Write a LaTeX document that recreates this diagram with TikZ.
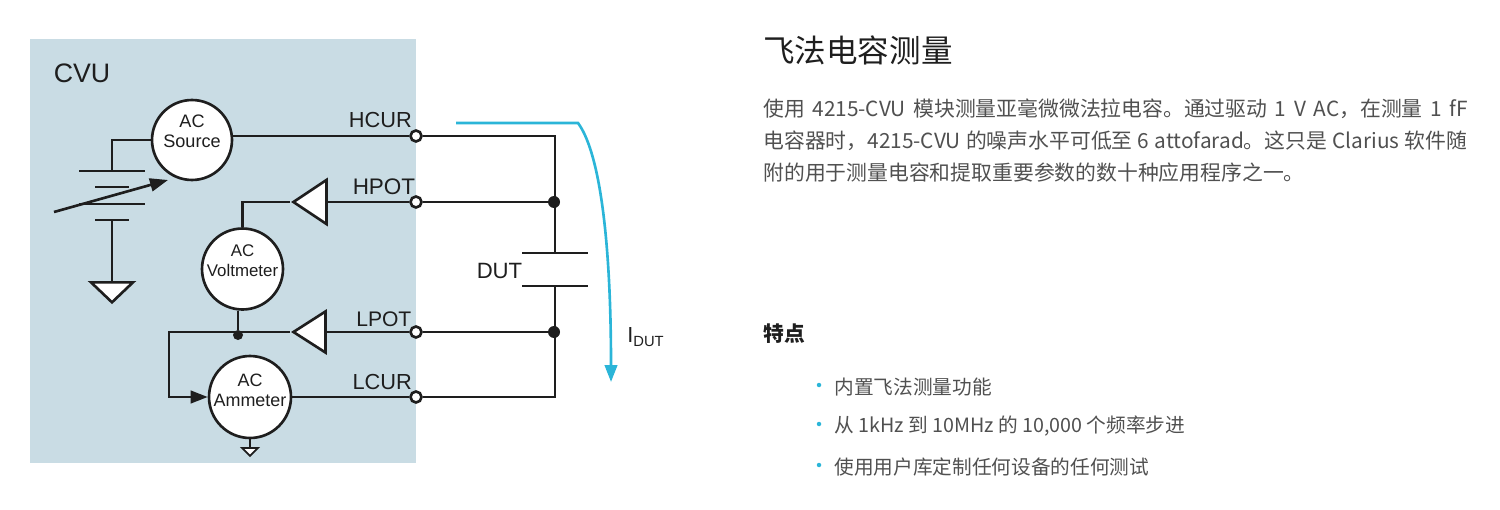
\documentclass[tikz,border=0pt]{standalone}
\usepackage{fontspec}
\setmainfont{Liberation Sans}
\newfontfamily\cjk{Noto Sans CJK SC}
\usetikzlibrary{arrows, arrows.meta, positioning, shapes.geometric}
\definecolor{panelblue}{HTML}{C9DCE4}
\definecolor{courant}{HTML}{2BB5D8}
\definecolor{encre}{HTML}{1E1E1E}
\definecolor{corps}{HTML}{505050}
\tikzset{
    %Define standard wire
    fil/.style={
           draw=encre,
           line width=1.5pt},
    %Define style for circles
    appareil/.style={
           circle,
           fil,
           fill=white,
           inner sep=0pt},
    % text inside the circles
    texteapp/.style={
           align=center,
           inner sep=0pt,
           text=encre,
           font=\fontsize{10.2}{11.4}\selectfont},
    %Define style for the terminals
    borne/.style={
           circle,
           fil,
           fill=white,
           inner sep=0pt,
           minimum size=0.22cm},
    % junction dots
    point/.style={
           circle,
           fill=encre,
           inner sep=0pt,
           minimum size=0.24cm},
    % battery and capacitor plates
    plaque/.style={
           rectangle,
           fill=encre,
           inner sep=0pt,
           minimum height=0.045cm},
    % triangles
    tampon/.style={
           isosceles triangle,
           isosceles triangle stretches,
           fil,
           fill=white,
           inner sep=0pt},
    etiquette/.style={
           inner sep=0pt,
           text=encre,
           font=\fontsize{12.4}{14}\selectfont},
    % Chinese text
    titre/.style={anchor=west, inner sep=0pt, text=encre, font=\cjk\fontsize{17.95}{20}\selectfont},
    corpsligne/.style={anchor=west, inner sep=0pt, text=corps, font=\cjk\fontsize{11.85}{14}\selectfont},
    ligne/.style={anchor=west, inner sep=0pt, text=corps, font=\cjk\fontsize{11.2}{14}\selectfont},
    puce/.style={circle, fill=courant, inner sep=0pt, minimum size=0.09cm}
}

\begin{document}
\begin{tikzpicture}[x=0.02cm, y=-0.02cm]
	\useasboundingbox (0,0) rectangle (1500,510);
	\fill[panelblue] (30,39) rectangle (416,463);
	%
	% noeuds
	%
	\node[etiquette, font=\fontsize{15.2}{16}\selectfont] (cvu) at (82,73) {CVU};
	\node[appareil, minimum size=1.6cm] (source) at (192,140) {};
	\node[appareil, minimum size=1.62cm] (voltm) at (242.5,269) {};
	\node[appareil, minimum size=1.64cm] (amm) at (250,397) {};
	\node[texteapp, font=\fontsize{10.3}{11.6}\selectfont, above=-0.16cm of source.center] (tsource) {AC\\Source};
	\node[texteapp, font=\fontsize{9.6}{11.4}\selectfont, above=-0.16cm of voltm.center] (tvoltm) {AC\\Voltmeter};
	\node[texteapp, above=-0.21cm of amm.center] (tamm) {AC\\Ammeter};
	%
	\node[borne] (hcur) at (416,136) {};
	\node[borne] (hpot) at (416,202) {};
	\node[borne] (lpot) at (416,332) {};
	\node[borne] (lcur) at (416,397) {};
	\node[etiquette, above left=1.5pt and -0.6pt of hcur] (lhcur) {HCUR};
	\node[etiquette, above left=1pt and -2.5pt of hpot, font=\fontsize{12.8}{14}\selectfont] (lhpot) {HPOT};
	\node[etiquette, above left=0pt and -0.3pt of lpot, font=\fontsize{12}{14}\selectfont] (llpot) {LPOT};
	\node[etiquette, above left=1pt and -0.6pt of lcur] (llcur) {LCUR};
	%
	\node[tampon, shape border rotate=180, minimum width=0.88cm, minimum height=0.66cm, anchor=apex] (thpot) at (290,202) {};
	\node[tampon, shape border rotate=180, minimum width=0.82cm, minimum height=0.64cm, anchor=apex] (tlpot) at (290,332) {};
	%
	\node[plaque, minimum width=1.32cm] (batA) at (112,171) {};
	\node[plaque, minimum width=0.7cm] (batB) at (112,187) {};
	\node[plaque, minimum width=1.32cm] (batC) at (112,204) {};
	\node[plaque, minimum width=0.7cm] (batD) at (112,220) {};
	\node[tampon, shape border rotate=270, minimum width=0.84cm, minimum height=0.4cm, anchor=lower side] (terreA) at (112,281) {};
	\node[tampon, shape border rotate=270, minimum width=0.32cm, minimum height=0.16cm, line width=1pt, anchor=lower side] (terreB) at (250,447) {};
	%
	\node[plaque, minimum width=1.32cm] (capH) at (555,253) {};
	\node[plaque, minimum width=1.32cm] (capB) at (555,286) {};
	\node[etiquette, font=\fontsize{12.6}{14}\selectfont] (dut) at (499.5,271) {DUT};
	\node[point] (jh) at (554,202) {};
	\node[point] (jl) at (554,332) {};
	\node[point, minimum size=0.2cm] (jv) at (238,335) {};
	\coordinate (coude) at (169,332);
	\coordinate (varA) at (54,212);
	\coordinate (varB) at (168,180);
	\coordinate (iA) at (456,123);
	\coordinate (iB) at (611,382);
	\node[etiquette, anchor=west] (idut) at (627,337) {I\raisebox{-2.5pt}{\fontsize{8.4}{10}\selectfont DUT}};
	%
	% Liens
	%
	\draw[fil] (source.east |- hcur) -- (hcur);
	\draw[fil] (source.west) -| (batA.north);
	\draw[fil] (batD.south) -- (terreA.lower side);
	\draw[fil, -{Triangle[length=0.36cm, width=0.26cm]}] (varA) -- (varB);
	\draw[fil] (hpot) -- (thpot.lower side);
	\draw[fil] (thpot.apex) -| (voltm.north);
	\draw[fil] (lpot) -- (tlpot.lower side);
	\draw[fil] (voltm.south -| jv) -- (jv);
	\draw[fil, -{Triangle[length=0.34cm, width=0.25cm]}] (tlpot.apex) -- (coude) |- (amm.west);
	\draw[fil] (amm.east) -- (lcur);
	\draw[fil] (amm.south) -- (terreB.lower side);
	\draw[fil] (hcur) -| (capH.north);
	\draw[fil] (hpot) -- (jh);
	\draw[fil] (lpot) -- (jl);
	\draw[fil] (lcur) -| (capB.south);
	\draw[courant, line width=1.5pt, -{Triangle[length=0.34cm, width=0.25cm]}] (iA) -- (578,123) .. controls (598,150) and (611,230) .. (iB);
	%
	% Texte
	%
	\node[titre] (titre) at (763,50) {飞法电容测量};
	\node[corpsligne] (la) at (763,109) {\spaceskip=4.3pt 使用 4215-CVU 模块测量亚毫微微法拉电容。通过驱动 1 V AC，在测量 1 fF};
	\node[corpsligne] (lb) at (763,141) {\spaceskip=3pt 电容器时，4215-CVU 的噪声水平可低至 6 attofarad。这只是 Clarius 软件随};
	\node[corpsligne] (lc) at (763,173) {附的用于测量电容和提取重要参数的数十种应用程序之一。};
	\node[titre, font=\cjk\bfseries\fontsize{11.8}{14}\selectfont] (points) at (763,334) {特点};
	\node[puce] (pa) at (819,385) {};
	\node[puce] (pb) at (819,424) {};
	\node[puce] (pc) at (819,465) {};
	\node[ligne] (ta) at (834,387) {内置飞法测量功能};
	\node[ligne] (tb) at (834,426) {从 1kHz 到 10MHz 的 10,000 个频率步进};
	\node[ligne] (tc) at (834,467) {使用用户库定制任何设备的任何测试};
\end{tikzpicture}
\end{document}
